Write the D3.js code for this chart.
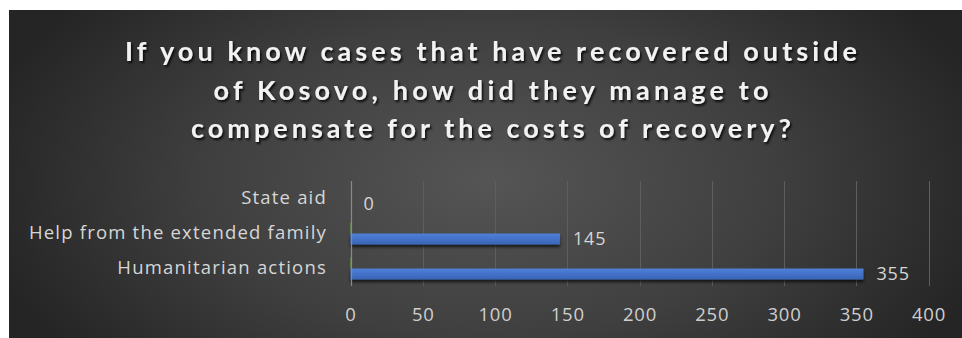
<!DOCTYPE html>
<html>
<head>
<meta charset="utf-8">
<script src="https://cdn.jsdelivr.net/npm/d3@7/dist/d3.min.js"></script>
<style>
  html, body { margin: 0; padding: 0; background: #ffffff; }
  svg { display: block; }
</style>
</head>
<body>
<svg id="chart" width="962" height="338"></svg>
<script>
// Survey answers: how recovery abroad was paid for
const titleLines = [
  "If you know cases that have recovered outside",
  "of Kosovo, how did they manage to",
  "compensate for the costs of recovery?"
];
const categories = ["State aid", "Help from the extended family", "Humanitarian actions"];
const seriesNames = ["Series2", "Series1"];
const series2Values = [0, 0, 0];
const series1Values = [0, 145, 355];
const xTicks = [0, 50, 100, 150, 200, 250, 300, 350, 400];

const W = 962, H = 338;
const svg = d3.select("#chart");
const defs = svg.append("defs");

// radial background, lighter toward the middle
const bg = defs.append("radialGradient").attr("id", "bgGrad")
  .attr("gradientUnits", "userSpaceOnUse")
  .attr("cx", 490).attr("cy", 180).attr("r", 520)
  .attr("gradientTransform", "translate(490,180) scale(1,0.55) translate(-490,-180)");
bg.append("stop").attr("offset", "0%").attr("stop-color", "#555555");
bg.append("stop").attr("offset", "55%").attr("stop-color", "#3f3f3f");
bg.append("stop").attr("offset", "100%").attr("stop-color", "#252525");

const shadow = defs.append("filter").attr("id", "textShadow")
  .attr("x", "-5%").attr("y", "-30%").attr("width", "110%").attr("height", "160%");
shadow.append("feDropShadow").attr("dx", 1.5).attr("dy", 2).attr("stdDeviation", 1.2)
  .attr("flood-color", "#000").attr("flood-opacity", 0.85);

const barShadow = defs.append("filter").attr("id", "barShadow")
  .attr("x", "-5%").attr("y", "-40%").attr("width", "110%").attr("height", "200%");
barShadow.append("feDropShadow").attr("dx", 0).attr("dy", 2.5).attr("stdDeviation", 1.5)
  .attr("flood-color", "#000").attr("flood-opacity", 0.7);

const barGrad = defs.append("linearGradient").attr("id", "barGrad")
  .attr("x1", 0).attr("y1", 0).attr("x2", 0).attr("y2", 1);
barGrad.append("stop").attr("offset", "0%").attr("stop-color", "#4f80d8");
barGrad.append("stop").attr("offset", "50%").attr("stop-color", "#4472c9");
barGrad.append("stop").attr("offset", "100%").attr("stop-color", "#3a64b4");

svg.append("rect").attr("x", 9).attr("y", 10).attr("width", W - 9).attr("height", H - 10)
  .attr("fill", "url(#bgGrad)");

// title
const titleWidths = [732, 555, 600];
const titleBaselines = [61, 100, 138];
svg.append("g").attr("filter", "url(#textShadow)")
  .selectAll("text").data(titleLines).join("text")
  .attr("x", 491)
  .attr("y", (d, i) => titleBaselines[i])
  .attr("text-anchor", "middle")
  .attr("textLength", (d, i) => titleWidths[i])
  .attr("lengthAdjust", "spacing")
  .attr("font-family", "Lato, 'Open Sans', sans-serif")
  .attr("font-weight", "bold")
  .attr("font-size", 27)
  .attr("fill", "#f2f2f2")
  .text(d => d);

// scales
const x = d3.scaleLinear().domain([0, 400]).range([350.5, 928.5]);
const y = d3.scaleBand().domain(categories).range([181, 286]).paddingInner(0).paddingOuter(0);
const ySub = d3.scaleBand().domain(seriesNames).range([0, y.bandwidth()]).paddingInner(0).paddingOuter(0.59);

// gridlines
svg.append("g").selectAll("line").data(xTicks.filter(t => t > 0)).join("line")
  .attr("x1", d => Math.round(x(d)) + 0.5).attr("x2", d => Math.round(x(d)) + 0.5)
  .attr("y1", 181).attr("y2", 286)
  .attr("stroke", "#5e5e5e").attr("stroke-width", 1);

// x axis labels
const xAxis = d3.axisBottom(x).tickValues(xTicks).tickSize(0).tickPadding(0);
const gx = svg.append("g").attr("transform", "translate(0,308)").call(xAxis);
gx.select(".domain").remove();
gx.selectAll("text")
  .attr("font-family", "'Open Sans', sans-serif")
  .attr("font-size", 18.5)
  .attr("letter-spacing", 0.8)
  .attr("fill", "#cfcfcf");

// category labels
const yAxis = d3.axisLeft(y).tickSize(0).tickPadding(0);
const gy = svg.append("g").attr("transform", "translate(327,0)").call(yAxis);
gy.select(".domain").remove();
gy.selectAll("text")
  .attr("font-family", "'Open Sans', sans-serif")
  .attr("font-size", 18.5)
  .attr("letter-spacing", 1.2)
  .attr("fill", "#d6d6d6");

// bars
const rows = categories.map((c, i) => ({ cat: c, s2: series2Values[i], s1: series1Values[i] }));

svg.append("g").selectAll("rect").data(rows.filter(r => r.cat !== categories[0])).join("rect")
  .attr("x", x(0))
  .attr("y", d => y(d.cat) + ySub("Series2"))
  .attr("width", d => Math.max(1.5, x(d.s2) - x(0)))
  .attr("height", ySub.bandwidth())
  .attr("fill", "#70ad47");

svg.append("g").attr("filter", "url(#barShadow)")
  .selectAll("rect").data(rows).join("rect")
  .attr("x", x(0))
  .attr("y", d => y(d.cat) + ySub("Series1"))
  .attr("width", d => x(d.s1) - x(0))
  .attr("height", ySub.bandwidth())
  .attr("fill", "url(#barGrad)");

// axis line
svg.append("line")
  .attr("x1", Math.round(x(0)) + 0.5).attr("x2", Math.round(x(0)) + 0.5)
  .attr("y1", 181).attr("y2", 286)
  .attr("stroke", "#8a8a8a").attr("stroke-width", 1.2);

// value labels
svg.append("g").selectAll("text").data(rows).join("text")
  .attr("x", d => x(d.s1) + 13)
  .attr("y", d => y(d.cat) + ySub("Series1") + ySub.bandwidth() / 2)
  .attr("dy", "0.35em")
  .attr("font-family", "'Open Sans', sans-serif")
  .attr("font-size", 18)
  .attr("letter-spacing", 0.8)
  .attr("fill", "#d6d6d6")
  .text(d => d.s1);
</script>
</body>
</html>
